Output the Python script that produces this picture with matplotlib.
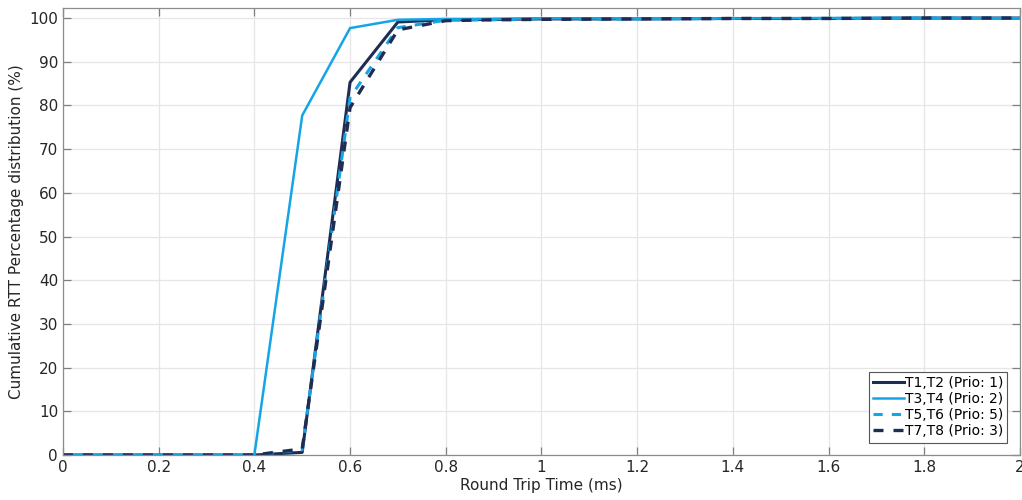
import numpy as np
import matplotlib
matplotlib.use("Agg")
import matplotlib.pyplot as plt

# --- Data ---
rtt_ms = [0.0, 0.1, 0.2, 0.3, 0.4, 0.5, 0.6, 0.7, 0.8, 0.9, 1.0,
          1.2, 1.4, 1.6, 1.8, 2.0]

cdf_t1_t2 = [0, 0, 0, 0, 0, 0.6, 85.3, 99.1, 99.6, 99.7, 99.8,
             99.8, 99.9, 99.9, 100, 100]
cdf_t3_t4 = [0, 0, 0, 0, 0, 77.7, 97.7, 99.6, 99.8, 99.8, 99.9,
             99.9, 99.9, 100, 100, 100]
cdf_t5_t6 = [0, 0, 0, 0, 0, 1.2, 81.8, 97.8, 99.5, 99.6, 99.7,
             99.8, 99.9, 99.9, 100, 100]
cdf_t7_t8 = [0, 0, 0, 0, 0, 1.4, 79.5, 97.3, 99.4, 99.6, 99.7,
             99.8, 99.9, 99.9, 100, 100]

labels = ["T1,T2 (Prio: 1)", "T3,T4 (Prio: 2)", "T5,T6 (Prio: 5)", "T7,T8 (Prio: 3)"]

navy = "#1f2d55"
light_blue = "#14a5e6"

plt.rcParams["font.family"] = "DejaVu Sans"

fig = plt.figure(figsize=(10.22, 5.0), dpi=100)
ax = fig.add_axes([0.0616, 0.09, 0.9364, 0.894])

ax.plot(rtt_ms, cdf_t1_t2, color=navy, lw=2.2, label=labels[0])
ax.plot(rtt_ms, cdf_t3_t4, color=light_blue, lw=1.8, label=labels[1])
ax.plot(rtt_ms, cdf_t5_t6, color=light_blue, lw=2.2, ls=(0, (3, 3)), label=labels[2])
ax.plot(rtt_ms, cdf_t7_t8, color=navy, lw=2.4, ls=(0, (3, 3)), label=labels[3])

ax.set_xlim(0, 2)
ax.set_ylim(0, 102.3)
ax.set_xticks(np.arange(0, 2.01, 0.2))
ax.set_xticklabels(["0", "0.2", "0.4", "0.6", "0.8", "1", "1.2", "1.4", "1.6", "1.8", "2"])
ax.set_yticks(np.arange(0, 101, 10))

ax.grid(True, color="#e6e6e6", lw=0.9)
ax.set_axisbelow(True)
ax.tick_params(direction="in", top=True, right=True, length=6, width=0.9,
               color="#7f7f7f", labelsize=11, labelcolor="#262626")
for sp in ax.spines.values():
    sp.set_color("#8c8c8c")
    sp.set_linewidth(0.9)

ax.set_xlabel("Round Trip Time (ms)", fontsize=11, color="#262626", labelpad=2)
ax.set_ylabel("Cumulative RTT Percentage distribution (%)", fontsize=11, color="#262626", labelpad=4)

leg = ax.legend(loc="lower right", fontsize=10, handlelength=2.2, handletextpad=0.1,
                borderpad=0.3, labelspacing=0.15, fancybox=False, framealpha=1,
                borderaxespad=0.9)
leg.get_frame().set_edgecolor("#555555")
leg.get_frame().set_linewidth(0.8)

fig.savefig("out.png", dpi=100)
